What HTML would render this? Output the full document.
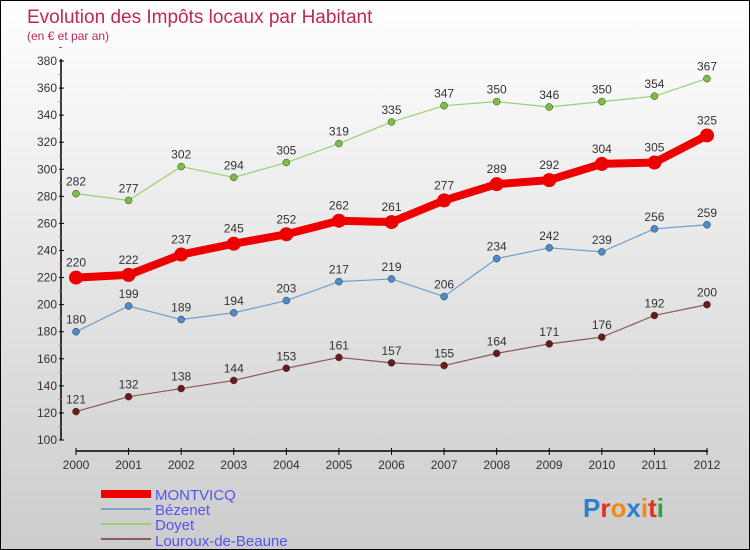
<!DOCTYPE html>
<html><head><meta charset="utf-8"><style>
body{margin:0}
#c{width:748px;height:548px;border:1px solid #000;background:linear-gradient(#fff,#ccc);position:relative;font-family:"Liberation Sans",sans-serif;overflow:hidden}
</style></head><body>
<div id="c">
<svg id="s" width="748" height="548" style="position:absolute;left:0;top:0">
<text x="26" y="22" font-size="19" fill="#c0265a">Evolution des Impôts locaux par Habitant</text>
<text x="26" y="39" font-size="12" fill="#c0265a">(en € et par an)</text>
<g id="axes"></g><g id="series"></g>
<g>
<rect x="100" y="489" width="50" height="8" fill="#e00"/>
<text x="154" y="499" font-size="15" fill="#5555ee">MONTVICQ</text>
<rect x="100" y="507" width="50" height="2" fill="#7aa6c8"/>
<text x="154" y="514" font-size="15" fill="#5555ee">Bézenet</text>
<rect x="100" y="522" width="50" height="2" fill="#9ad070"/>
<text x="154" y="529" font-size="15" fill="#5555ee">Doyet</text>
<rect x="100" y="537" width="50" height="2" fill="#8a5a5a"/>
<text x="154" y="545" font-size="15" fill="#5555ee">Louroux-de-Beaune</text>
</g>
<text x="582" y="516" font-size="26" font-weight="bold"><tspan fill="#2a7fd0">P</tspan><tspan fill="#e03020">r</tspan><tspan fill="#f08a10">o</tspan><tspan fill="#2a7fd0">x</tspan><tspan fill="#f08a10">i</tspan><tspan fill="#e03020">t</tspan><tspan fill="#30a040">i</tspan></text>
</svg></div>
<script>
const years=[2000,2001,2002,2003,2004,2005,2006,2007,2008,2009,2010,2011,2012];
const montvicq=[220,222,237,245,252,262,261,277,289,292,304,305,325];
const bezenet=[180,199,189,194,203,217,219,206,234,242,239,256,259];
const doyet=[282,277,302,294,305,319,335,347,350,346,350,354,367];
const louroux=[121,132,138,144,153,161,157,155,164,171,176,192,200];
const yTicks=[100,120,140,160,180,200,220,240,260,280,300,320,340,360,380];
const NS="http://www.w3.org/2000/svg";
const X=i=>75+i*(631/12);
const Y=v=>439-(v-100)*(379/280);
function mk(t,a,p){const e=document.createElementNS(NS,t);for(const k in a)e.setAttribute(k,a[k]);p.appendChild(e);return e;}
const ax=document.getElementById('axes');
const yl=mk('line',{x1:60,y1:58,x2:60,y2:439,stroke:'#000','stroke-width':1.5},ax);


yTicks.forEach(v=>{
 mk('line',{x1:58,x2:63,y1:Y(v),y2:Y(v),stroke:'#000'},ax);
 mk('line',{x1:58,x2:61,y1:Y(v+10),y2:Y(v+10),stroke:'#e33'},ax);
 const t=mk('text',{x:56,y:Y(v)+4,'text-anchor':'end','font-size':12,fill:'#333'},ax);t.textContent=v;
 
 
});
const xl=mk('line',{x1:75,y1:450,x2:707,y2:450,stroke:'#000','stroke-width':1.5},ax);


years.forEach((y,i)=>{
 mk('line',{x1:X(i),x2:X(i),y1:447,y2:454,stroke:'#000'},ax);
 const t=mk('text',{x:X(i),y:468,'text-anchor':'middle','font-size':12,fill:'#333'},ax);t.textContent=y;
 
 
});
const sg=document.getElementById('series');
function series(name,data,color,w,r,dot){
 const g=mk('g',{},sg);
 
 
 const pl=mk('polyline',{points:data.map((v,i)=>X(i)+','+Y(v)).join(' '),fill:'none',stroke:color,'stroke-width':w,'stroke-linejoin':'round'},g);
 
 
 data.forEach((v,i)=>{
  const c=mk('circle',{cx:X(i),cy:Y(v),r:r,fill:dot,stroke:'#333','stroke-width':r>5?0:0.5},g);
  
  
  const t=mk('text',{x:X(i),y:Y(v)-(r>5?11:8),'text-anchor':'middle','font-size':12,fill:'#333'},g);t.textContent=v;
  
  
 });
}
series('doyet',doyet,'#9ad070',1.2,3.5,'#7cc040');
series('bezenet',bezenet,'#6fa0cc',1.2,3.5,'#4a8ccc');
series('louroux',louroux,'#8a5a5a',1.2,3.5,'#6a1a1a');
series('montvicq',montvicq,'#e00',8,7,'#e00');
</script>
</body></html>
